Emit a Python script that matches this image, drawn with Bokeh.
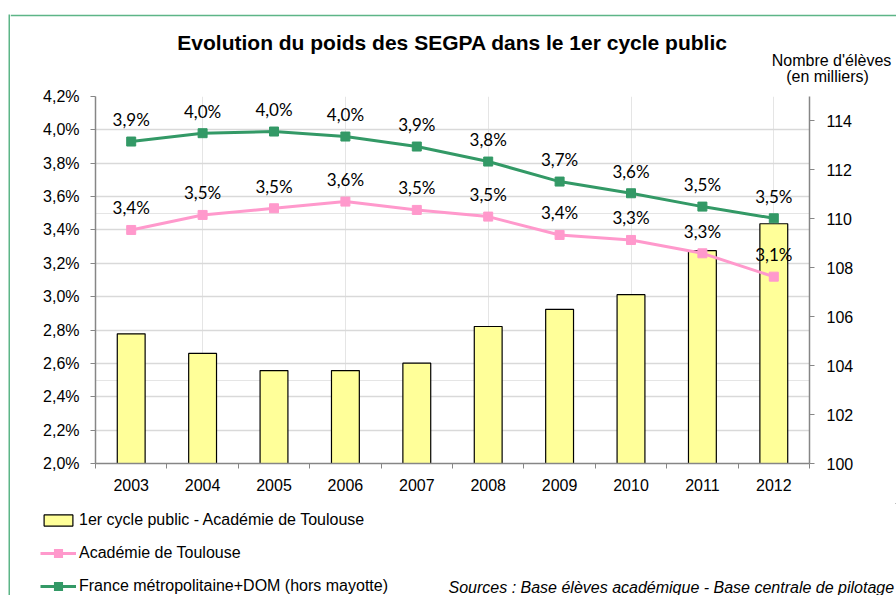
from bokeh.plotting import figure
from bokeh.layouts import column, row
from bokeh.models import (Range1d, LinearAxis, FixedTicker, CustomJSTickFormatter, Grid,
                          Legend, LegendItem, Label, Spacer, ColumnDataSource)
from bokeh.core.properties import value
from bokeh.embed import file_html
from bokeh.resources import INLINE

# ---------------- data ----------------
years = [2003, 2004, 2005, 2006, 2007, 2008, 2009, 2010, 2011, 2012]
# Nombre d'élèves du 1er cycle public - Académie de Toulouse (en milliers)
eleves_1er_cycle_toulouse = [105.3, 104.5, 103.8, 103.8, 104.1, 105.6, 106.3, 106.9, 108.7, 109.8]
# Poids des SEGPA (%)
part_segpa_toulouse = [3.40, 3.49, 3.53, 3.57, 3.52, 3.48, 3.37, 3.34, 3.26, 3.12]
part_segpa_france = [3.93, 3.98, 3.99, 3.96, 3.90, 3.81, 3.69, 3.62, 3.54, 3.47]

pct_ticks = [2.0, 2.2, 2.4, 2.6, 2.8, 3.0, 3.2, 3.4, 3.6, 3.8, 4.0, 4.2]
eleves_ticks = [100, 102, 104, 106, 108, 110, 112, 114]

title_text = "Evolution du poids des SEGPA dans le 1er cycle public"
right_title_1 = "Nombre d'élèves"
right_title_2 = "(en milliers)"
legend_bar = "1er cycle public - Académie de Toulouse"
legend_tlse = "Académie de Toulouse"
legend_fr = "France métropolitaine+DOM (hors mayotte)"
sources_text = "Sources : Base élèves  académique - Base centrale de pilotage"


def fmt_pct(v):
    return f"{v:.1f}".replace(".", ",") + "%"


src = ColumnDataSource(dict(
    year=years,
    eleves=eleves_1er_cycle_toulouse,
    tlse=part_segpa_toulouse,
    fr=part_segpa_france,
    tlse_lbl=[fmt_pct(v) for v in part_segpa_toulouse],
    fr_lbl=[fmt_pct(v) for v in part_segpa_france],
))

# ---------------- styles / page geometry ----------------
GREEN = "#339966"
PINK = "#FF99CC"
BAR = "#FFFF99"
AXIS = "#868686"
GRID = "#d9d9d9"
BORDER = "#5db587"
FONT = "Liberation Sans"
PAGE_W, PAGE_H = 896, 595
TOP_GAP, LEFT_GAP, LINE_W = 14, 8, 2
INNER_W = PAGE_W - LEFT_GAP - LINE_W          # 886
INNER_H = PAGE_H - TOP_GAP                     # 581
HEAD_H, MID_H, FOOT_H = 72, 417, 92            # = 581
X0 = LEFT_GAP + LINE_W                         # page x of inner block (10)
Y_HEAD = TOP_GAP + LINE_W                      # page y of header frame (16)
Y_MID = TOP_GAP + HEAD_H                       # 86
Y_FOOT = Y_MID + MID_H                         # 503


def blank_fig(w, h, xr, yr, fill="white", border_fill=None, top=0):
    f = figure(width=w, height=h, x_range=xr, y_range=yr, title=None, title_location=None,
               output_backend="svg", toolbar_location=None, tools="",
               x_axis_location=None, y_axis_location=None, min_border=0,
               min_border_top=top, outline_line_color=None, background_fill_color=fill,
               border_fill_color=border_fill or fill)
    f.center = [r for r in f.center if not isinstance(r, Grid)]
    return f


# chart-area border, left side
left_line = blank_fig(LINE_W, INNER_H, Range1d(0, 1), Range1d(0, 1), fill=BORDER)

# ---------------- header (title texts), page coordinates; top border = border fill ----------------
head = blank_fig(INNER_W, HEAD_H, Range1d(X0, PAGE_W), Range1d(Y_MID, Y_HEAD),
                 fill="white", border_fill=BORDER, top=LINE_W)
head.add_layout(Label(x=452, y=42, text=title_text, text_align="center",
                      text_baseline="middle", text_font=FONT, text_font_style="bold",
                      text_font_size="21px", text_color="black"))
head.add_layout(Label(x=831, y=60, text=right_title_1, text_align="center",
                      text_baseline="middle", text_font=FONT,
                      text_font_size="16px", text_color="black"))
head.add_layout(Label(x=827, y=76, text=right_title_2, text_align="center",
                      text_baseline="middle", text_font=FONT,
                      text_font_size="16px", text_color="black"))

# ---------------- main chart ----------------
p = figure(width=INNER_W, height=MID_H, title=None, title_location=None,
           x_range=Range1d(2002.5, 2012.5), y_range=Range1d(2.0, 4.2),
           output_backend="svg", toolbar_location=None, tools="",
           x_axis_location=None, y_axis_location=None,
           min_border_left=95 - X0, min_border_right=PAGE_W - 809,
           min_border_top=96 - Y_MID, min_border_bottom=Y_FOOT - 463,
           outline_line_color=None,
           background_fill_color="white", border_fill_color="white")
p.extra_y_ranges = {"eleves": Range1d(100, 115)}

ax_left = LinearAxis(ticker=FixedTicker(ticks=pct_ticks),
                     formatter=CustomJSTickFormatter(code="return tick.toFixed(1).replace('.', ',') + '%';"))
ax_right = LinearAxis(y_range_name="eleves", ticker=FixedTicker(ticks=eleves_ticks),
                      formatter=CustomJSTickFormatter(code="return tick.toFixed(0);"))
for ax, standoff in ((ax_left, 11), (ax_right, 12)):
    ax.axis_line_color = AXIS
    ax.axis_line_width = 1.5
    ax.major_tick_line_color = AXIS
    ax.major_tick_out = 5
    ax.major_tick_in = 0
    ax.minor_tick_line_color = None
    ax.major_label_text_font = FONT
    ax.major_label_text_font_size = "16px"
    ax.major_label_text_color = "black"
    ax.major_label_standoff = standoff
p.add_layout(ax_left, "left")
p.add_layout(ax_right, "right")

ax_x = LinearAxis(ticker=FixedTicker(ticks=years,
                                     minor_ticks=[y - 0.5 for y in years] + [years[-1] + 0.5]),
                  formatter=CustomJSTickFormatter(code="return tick.toFixed(0);"))
ax_x.axis_line_color = AXIS
ax_x.axis_line_width = 1.5
ax_x.major_tick_line_color = None
ax_x.major_tick_out = 5
ax_x.major_tick_in = 0
ax_x.minor_tick_line_color = AXIS
ax_x.minor_tick_out = 5
ax_x.minor_tick_in = 0
ax_x.major_label_text_font = FONT
ax_x.major_label_text_font_size = "16px"
ax_x.major_label_text_color = "black"
ax_x.major_label_standoff = 10
p.add_layout(ax_x, "below")

p.add_layout(Grid(dimension=1, ticker=FixedTicker(ticks=pct_ticks),
                  grid_line_color=GRID, grid_line_width=1.5))

bar_style = dict(fill_color=BAR, line_color="black", line_width=1.2)
tl_line_style = dict(line_color=PINK, line_width=3)
fr_line_style = dict(line_color=GREEN, line_width=3)

p.vbar(x="year", top="eleves", bottom=100, width=0.39, y_range_name="eleves",
       source=src, **bar_style)
p.line("year", "tlse", source=src, **tl_line_style)
p.scatter("year", "tlse", marker="square", size=9, fill_color=PINK, line_color=PINK, source=src)
p.line("year", "fr", source=src, **fr_line_style)
p.scatter("year", "fr", marker="square", size=9, fill_color=GREEN, line_color=GREEN, source=src)

for col, lbl in (("tlse", "tlse_lbl"), ("fr", "fr_lbl")):
    p.text("year", col, text=lbl, source=src, text_align="center", text_baseline="middle",
           y_offset=-22, text_font=value("Lato"), text_font_size=value("17px"),
           text_color="black")

# ---------------- footer (legend + sources), page coordinates ----------------
foot = blank_fig(INNER_W, FOOT_H, Range1d(X0, PAGE_W), Range1d(PAGE_H, Y_FOOT))
# legend-sample renderers (same series; they fall outside this strip's visible area)
lg_bar = foot.vbar(x="year", top="eleves", bottom=100, width=0.39, source=src, **bar_style)
lg_tl_l = foot.line("year", "tlse", source=src, **tl_line_style)
lg_tl_p = foot.scatter("year", "tlse", marker="square", fill_color=PINK, line_color=PINK,
                       line_width=3.5, line_join="miter", source=src)
lg_fr_l = foot.line("year", "fr", source=src, **fr_line_style)
lg_fr_p = foot.scatter("year", "fr", marker="square", fill_color=GREEN, line_color=GREEN,
                       line_width=3.5, line_join="miter", source=src)

legend = Legend(items=[
    LegendItem(label=legend_bar, renderers=[lg_bar]),
    LegendItem(label=legend_tlse, renderers=[lg_tl_l, lg_tl_p]),
    LegendItem(label=legend_fr, renderers=[lg_fr_l, lg_fr_p]),
], location=(40 - X0, -1), orientation="vertical")
legend.label_text_font = FONT
legend.label_text_font_size = "16px"
legend.label_text_color = "black"
legend.glyph_width = 36
legend.glyph_height = 14
legend.label_height = 20
legend.spacing = 13
legend.padding = 0
legend.margin = 0
legend.label_standoff = 3
legend.border_line_color = None
legend.background_fill_alpha = 0
foot.add_layout(legend)

foot.add_layout(Label(x=448, y=587, text=sources_text, text_align="left",
                      text_baseline="middle", text_font=FONT,
                      text_font_style="italic", text_font_size="16px", text_color="black"))

layout = column(
    Spacer(width=PAGE_W, height=TOP_GAP),
    row(Spacer(width=LEFT_GAP, height=INNER_H), left_line,
        column(head, row(p, spacing=0), foot, spacing=0), spacing=0),
    spacing=0,
)

open("out.html", "w").write(file_html(layout, INLINE))
